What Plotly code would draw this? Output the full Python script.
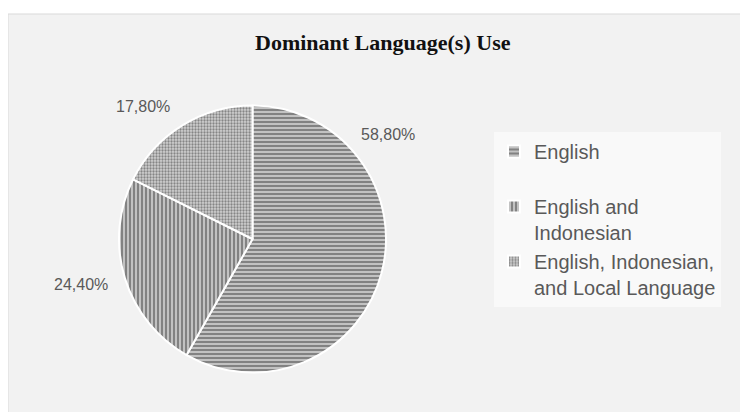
import plotly.graph_objects as go

W, H = 748, 412
OFF = 8  # page body margin in the browser

labels = ["English", "English and Indonesian", "English, Indonesian, and Local Language"]
legend_labels = ["English<br>\u00a0", "English and<br>Indonesian", "English, Indonesian,<br>and Local Language"]
values = [58.8, 24.4, 17.8]
value_text = ["58,80%", "24,40%", "17,80%"]
shapes_pat = ["-", "|", "."]
title_text = "Dominant Language(s) Use"

# label anchor positions in pixels (layout only)
label_px = [(388, 135), (81, 284), (143, 106)]

cx, cy, r = 252.5 - OFF, 239 - OFF, 133.5


def px_x(v):
    return (v - OFF) / W


def px_y(v):
    return 1 - (v - OFF) / H


fig = go.Figure()
fig.add_trace(go.Pie(
    labels=legend_labels,
    values=values,
    sort=False,
    direction="clockwise",
    rotation=0,
    textinfo="none",
    hoverinfo="label+percent",
    marker=dict(
        colors=["#c4c4c4", "#c4c4c4", "#c8c8c8"],
        line=dict(color="white", width=2),
        pattern=dict(
            shape=shapes_pat,
            fgcolor=["#222222", "#222222", "#3a3a3a"],
            bgcolor=["#c2c2c2", "#c2c2c2", "#d0d0d0"],
            size=[4, 4, 3],
            solidity=[0.4, 0.4, 0.45],
            fillmode="overlay",
        ),
    ),
    domain=dict(x=[(cx - r) / W, (cx + r) / W], y=[1 - (cy + r) / H, 1 - (cy - r) / H]),
    showlegend=True,
))

for (px, py), t in zip(label_px, value_text):
    fig.add_annotation(x=px_x(px), y=px_y(py), xref="paper", yref="paper",
                       xanchor="center", yanchor="middle",
                       text=t, showarrow=False,
                       font=dict(family="Liberation Sans", size=16, color="#595959"))

fig.add_annotation(x=px_x(383), y=px_y(43), xref="paper", yref="paper",
                   xanchor="center", yanchor="middle",
                   text="<b>" + title_text + "</b>", showarrow=False,
                   font=dict(family="Liberation Serif", size=22, color="#111111"))

fig.add_shape(type="rect", xref="paper", yref="paper",
              x0=px_x(8), x1=1.02, y0=-0.02, y1=px_y(14),
              fillcolor="#f2f2f2", line=dict(color="#d9d9d9", width=1), layer="below")

fig.update_layout(
    width=W, height=H,
    margin=dict(l=0, r=0, t=0, b=0),
    paper_bgcolor="white",
    plot_bgcolor="white",
    legend=dict(
        x=px_x(494), y=px_y(132), xanchor="left", yanchor="top",
        bgcolor="#f9f9f9",
        font=dict(family="Liberation Sans", size=20, color="#595959"),
        valign="top",
        itemwidth=30,
        tracegroupgap=0,
    ),
)

fig.write_html("out.html")
